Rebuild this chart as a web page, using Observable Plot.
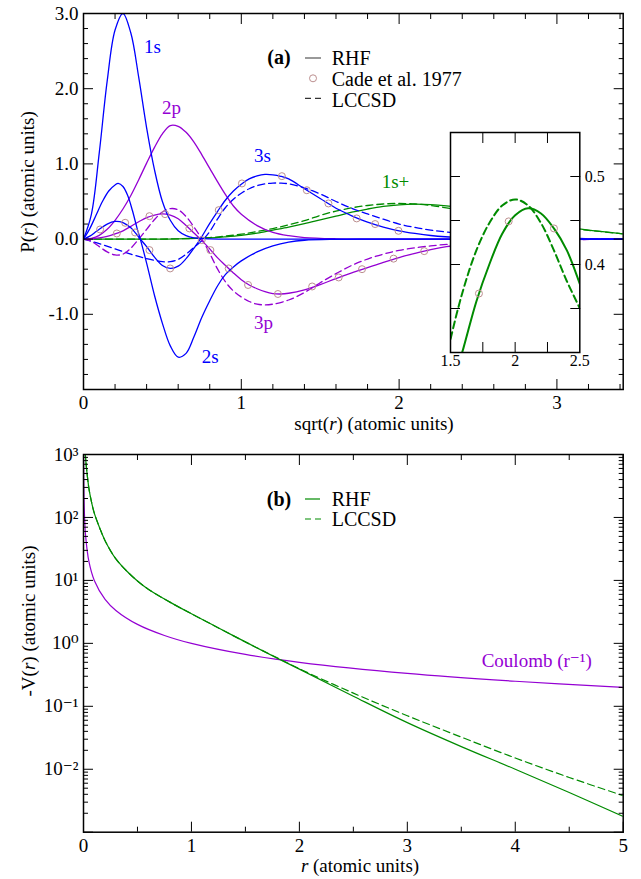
<!DOCTYPE html>
<html><head><meta charset="utf-8">
<script src="https://cdn.jsdelivr.net/npm/d3@7"></script>
<script src="https://cdn.jsdelivr.net/npm/@observablehq/plot@0.6"></script>
<style>
body{margin:0;background:#fff;}
#root{position:relative;width:641px;height:879px;overflow:hidden;background:#fff;}
#root svg{position:absolute;overflow:visible;}
</style></head><body><div id="root"></div>
<script>
// ---------- Panel (a): radial functions P(r) vs sqrt(r) ----------
const orb1s = [[0,0],[0.05,0.33],[0.1,1.15],[0.15,2.1],[0.2,2.78],[0.25,3.0],[0.3,2.74],[0.35,2.15],[0.4,1.48],[0.45,0.92],[0.5,0.5],[0.55,0.25],[0.6,0.11],[0.65,0.045],[0.7,0.017],[0.8,0.002],[0.9,0],[3.42,0]];
const orb2s = [[0,0],[0.04,0.14],[0.08,0.32],[0.12,0.5],[0.16,0.64],[0.2,0.72],[0.22,0.74],[0.25,0.7],[0.28,0.58],[0.31,0.38],[0.34,0.14],[0.36,0],[0.4,-0.32],[0.45,-0.75],[0.5,-1.12],[0.55,-1.42],[0.6,-1.57],[0.65,-1.52],[0.7,-1.3],[0.75,-1.04],[0.8,-0.82],[0.85,-0.62],[0.9,-0.47],[0.95,-0.37],[1.0,-0.29],[1.1,-0.17],[1.2,-0.09],[1.3,-0.04],[1.4,-0.015],[1.6,-0.003],[1.8,0],[3.42,0]];
const orb3s = [[0,0],[0.04,0.04],[0.08,0.1],[0.1,0.13],[0.15,0.2],[0.2,0.235],[0.25,0.22],[0.3,0.15],[0.33,0.08],[0.36,0],[0.4,-0.1],[0.45,-0.24],[0.5,-0.35],[0.55,-0.39],[0.6,-0.36],[0.65,-0.26],[0.7,-0.12],[0.74,0],[0.8,0.21],[0.85,0.37],[0.9,0.52],[0.95,0.64],[1.0,0.73],[1.05,0.8],[1.1,0.84],[1.15,0.86],[1.2,0.855],[1.25,0.835],[1.3,0.8],[1.4,0.67],[1.5,0.54],[1.6,0.41],[1.7,0.31],[1.8,0.225],[1.9,0.16],[2.0,0.11],[2.1,0.075],[2.2,0.048],[2.4,0.018],[2.6,0.006],[2.8,0.001],[3.0,0],[3.42,0]];
const orb2p = [[0,0],[0.05,0.01],[0.1,0.05],[0.15,0.13],[0.2,0.25],[0.25,0.4],[0.3,0.58],[0.35,0.79],[0.4,1.01],[0.45,1.22],[0.5,1.4],[0.55,1.51],[0.6,1.5],[0.65,1.42],[0.7,1.29],[0.75,1.12],[0.8,0.94],[0.85,0.76],[0.9,0.59],[0.95,0.44],[1.0,0.33],[1.1,0.18],[1.2,0.09],[1.3,0.045],[1.4,0.02],[1.6,0.004],[1.8,0],[3.42,0]];
const orb3p = [[0,0],[0.05,0.003],[0.1,0.015],[0.15,0.035],[0.2,0.068],[0.25,0.11],[0.3,0.17],[0.35,0.23],[0.4,0.285],[0.45,0.32],[0.5,0.335],[0.55,0.32],[0.6,0.27],[0.65,0.18],[0.7,0.08],[0.75,-0.02],[0.8,-0.13],[0.85,-0.25],[0.9,-0.35],[0.95,-0.45],[1.0,-0.54],[1.05,-0.61],[1.1,-0.66],[1.15,-0.7],[1.2,-0.725],[1.25,-0.73],[1.3,-0.72],[1.4,-0.675],[1.5,-0.605],[1.6,-0.525],[1.7,-0.45],[1.8,-0.38],[1.9,-0.31],[2.0,-0.245],[2.1,-0.19],[2.2,-0.14],[2.3,-0.1],[2.4,-0.075],[2.6,-0.04],[2.8,-0.02],[3.0,-0.01],[3.2,-0.004],[3.42,0]];
const lccsd3s = [[0,0],[0.1,-0.06],[0.2,-0.13],[0.3,-0.2],[0.4,-0.26],[0.5,-0.3],[0.55,-0.3],[0.6,-0.27],[0.65,-0.2],[0.7,-0.11],[0.76,0],[0.8,0.1],[0.85,0.27],[0.9,0.42],[0.95,0.53],[1.0,0.61],[1.05,0.67],[1.1,0.71],[1.15,0.735],[1.2,0.745],[1.25,0.745],[1.3,0.735],[1.4,0.68],[1.5,0.6],[1.6,0.5],[1.7,0.41],[1.8,0.335],[1.9,0.265],[2.0,0.2],[2.1,0.155],[2.2,0.12],[2.3,0.095],[2.5,0.055],[2.7,0.03],[3.0,0.012],[3.42,0.003]];
const lccsd3p = [[0,0],[0.05,-0.03],[0.1,-0.1],[0.15,-0.17],[0.2,-0.21],[0.25,-0.2],[0.3,-0.12],[0.35,0],[0.4,0.13],[0.45,0.26],[0.5,0.36],[0.55,0.405],[0.6,0.39],[0.65,0.3],[0.7,0.16],[0.75,0],[0.8,-0.19],[0.85,-0.4],[0.9,-0.57],[0.95,-0.69],[1.0,-0.77],[1.05,-0.83],[1.1,-0.865],[1.15,-0.875],[1.2,-0.865],[1.3,-0.81],[1.4,-0.71],[1.5,-0.58],[1.6,-0.46],[1.7,-0.35],[1.8,-0.265],[1.9,-0.2],[2.0,-0.15],[2.2,-0.09],[2.4,-0.055],[2.6,-0.03],[3.0,-0.01],[3.42,0]];
const pos1sRHF = [[0,0],[0.4,0],[0.6,0.003],[0.8,0.015],[0.9,0.03],[1.0,0.05],[1.1,0.08],[1.2,0.12],[1.3,0.16],[1.4,0.205],[1.5,0.255],[1.6,0.305],[1.7,0.358],[1.8,0.4],[1.9,0.435],[2.0,0.456],[2.1,0.464],[2.2,0.458],[2.3,0.441],[2.4,0.416],[2.5,0.378],[2.6,0.335],[2.8,0.245],[3.0,0.175],[3.2,0.12],[3.42,0.07]];
const pos1sLCCSD = [[0,0],[0.4,0],[0.6,0.004],[0.8,0.02],[0.9,0.04],[1.0,0.065],[1.1,0.1],[1.2,0.14],[1.3,0.19],[1.4,0.245],[1.5,0.315],[1.6,0.372],[1.7,0.416],[1.8,0.447],[1.9,0.467],[2.0,0.474],[2.1,0.467],[2.2,0.447],[2.3,0.416],[2.4,0.381],[2.5,0.35],[2.6,0.315],[2.8,0.24],[3.0,0.17],[3.2,0.117],[3.42,0.07]];
const cade3s = [[0.105,0.128],[0.264,0.217],[0.327,0.088],[0.418,-0.146],[0.549,-0.39],[0.749,-0.013],[0.857,0.385],[1.004,0.74],[1.257,0.837],[1.415,0.65],[1.552,0.474],[1.731,0.275],[1.848,0.2],[1.996,0.11]];
const cade3p = [[0.211,0.075],[0.418,0.305],[0.517,0.332],[0.671,0.142],[0.804,-0.146],[0.92,-0.39],[1.043,-0.61],[1.232,-0.73],[1.449,-0.63],[1.617,-0.51],[1.765,-0.40],[1.965,-0.26],[2.159,-0.16]];
const cade1sPlus = [[1.72,0.367],[1.95,0.449],[2.30,0.441]];
const xTicksA = [0,1,2,3];
const xMinorA = [0.2,0.4,0.6,0.8,1.2,1.4,1.6,1.8,2.2,2.4,2.6,2.8,3.2,3.4];
const yTicksA = [-2,-1,0,1,2,3];
const yLabelsA = [-1,0,1,2,3];
const yMinorA = [-1.8,-1.6,-1.4,-1.2,-0.8,-0.6,-0.4,-0.2,0.2,0.4,0.6,0.8,1.2,1.4,1.6,1.8,2.2,2.4,2.6,2.8];
const xTicksInset = [1.75,2,2.25];
const xLabelsInset = [1.5,2,2.5];
const yTicksInset = [0.35,0.4,0.45,0.5];
const yLabelsInset = [0.4,0.5];

// ---------- Panel (b): -V(r) vs r ----------
const potRHF = [[0.005,3600],[0.01,1800],[0.015,1150],[0.02,850],[0.03,560],[0.05,290],[0.075,174],[0.1,117],[0.15,68],[0.2,42.7],[0.3,21.9],[0.4,14.1],[0.5,9.8],[0.6,7.24],[0.8,4.52],[1.0,2.95],[1.2,1.95],[1.4,1.29],[1.6,0.861],[1.8,0.575],[2.0,0.389],[2.5,0.1445],[3.0,0.055],[3.5,0.0229],[4.0,0.01],[4.5,0.00427],[5.0,0.00178]];
const potLCCSD = [[0.005,3600],[0.01,1800],[0.015,1150],[0.02,850],[0.03,560],[0.05,290],[0.075,174],[0.1,117],[0.15,68],[0.2,42.7],[0.3,21.9],[0.4,14.1],[0.5,9.8],[0.6,7.24],[0.8,4.52],[1.0,2.95],[1.2,1.95],[1.4,1.29],[1.6,0.861],[1.8,0.582],[2.0,0.394],[2.5,0.162],[3.0,0.0708],[3.5,0.0324],[4.0,0.0151],[4.5,0.00741],[5.0,0.0038]];
const coulomb = [[0.001,1000],[0.002,500],[0.005,200],[0.01,100],[0.02,50],[0.05,20],[0.1,10],[0.2,5],[0.3,3.333],[0.5,2],[0.75,1.333],[1,1],[1.5,0.667],[2,0.5],[3,0.333],[4,0.25],[5,0.2]];
const xTicksB = [0,1,2,3,4,5];
const xMinorB = [0.5,1.5,2.5,3.5,4.5];
const yTicksB = [1e-3,1e-2,1e-1,1,10,100,1000];
const yLabelsB = [1e-2,1e-1,1,10,100,1000];
const yMinorB = [-3,-2,-1,0,1,2].flatMap(e => [2,3,4,5,6,7,8,9].map(k => k * Math.pow(10, e)));

// ---------- styling ----------
const FONT = "'Liberation Serif','DejaVu Serif','Noto Serif','Times New Roman',Times,serif";
const BLUE = "#0000ff", VIOLET = "#9400d3", GREEN = "#008b00", BROWN = "#bc8f8f";
const root = document.getElementById("root");
const X = d => d[0], Y = d => d[1];
const curve = (data, stroke, dashed, sw = 1.3) => Plot.line(data, {x: X, y: Y, stroke, strokeWidth: sw, strokeDasharray: dashed ? "7,4" : undefined, curve: "catmull-rom", clip: true});
const dots = (data) => Plot.dot(data, {x: X, y: Y, r: 3.5, stroke: BROWN, strokeWidth: 1, fill: "none", clip: true});
const blank = () => "";

function boxTicks({xMajor, xMinor = [], yMajor, yMinor = [], big = 10, small = 5}) {
  const m = [];
  for (const anchor of ["bottom", "top"]) {
    m.push(Plot.axisX({anchor, ticks: xMajor, tickSize: -big, tickFormat: blank, label: null}));
    if (xMinor.length) m.push(Plot.axisX({anchor, ticks: xMinor, tickSize: -small, tickFormat: blank, label: null}));
  }
  for (const anchor of ["left", "right"]) {
    m.push(Plot.axisY({anchor, ticks: yMajor, tickSize: -big, tickFormat: blank, label: null}));
    if (yMinor.length) m.push(Plot.axisY({anchor, ticks: yMinor, tickSize: -small, tickFormat: blank, label: null}));
  }
  return m;
}

function place(el, left, top) { el.style.left = left + "px"; el.style.top = top + "px"; root.appendChild(el); }

function addText(svg, x, y, parts, o = {}) {
  const t = d3.select(svg).append("text")
    .attr("x", x).attr("y", y)
    .style("font-family", FONT).style("font-size", (o.size || 19) + "px")
    .attr("fill", o.fill || "#000")
    .attr("text-anchor", o.anchor || "start")
    .style("font-weight", o.weight || "normal");
  if (o.rotate) t.attr("transform", `rotate(${o.rotate},${x},${y})`);
  if (o.baseline) t.attr("dominant-baseline", o.baseline);
  for (const p of parts) {
    const [s, st] = Array.isArray(p) ? p : [p, null];
    const ts = t.append("tspan").text(s);
    if (st === "i") ts.style("font-style", "italic");
  }
  return t;
}

// ---------- Panel (a) ----------
const plotA = Plot.plot({
  width: 641, height: 440,
  marginLeft: 83, marginRight: 18.3, marginTop: 13, marginBottom: 51,
  x: {domain: [0, 3.42]},
  y: {domain: [-2, 3]},
  style: {fontFamily: FONT, fontSize: "19px", background: "transparent", color: "#000"},
  marks: [
    curve(pos1sRHF, GREEN, false),
    curve(pos1sLCCSD, GREEN, true),
    curve(lccsd3s, BLUE, true),
    curve(lccsd3p, VIOLET, true),
    curve(orb2p, VIOLET, false),
    curve(orb3p, VIOLET, false),
    curve(orb1s, BLUE, false),
    curve(orb2s, BLUE, false),
    curve(orb3s, BLUE, false),
    dots(cade3s),
    dots(cade3p),
    ...boxTicks({xMajor: xTicksA, xMinor: xMinorA, yMajor: yTicksA, yMinor: yMinorA}),
    Plot.axisX({anchor: "bottom", ticks: xTicksA, tickSize: 0, tickPadding: 6, tickFormat: d => String(d), label: null}),
    Plot.axisY({anchor: "left", ticks: yLabelsA, tickSize: 0, tickPadding: 5, tickFormat: d => d.toFixed(1), label: null}),
    Plot.frame({strokeWidth: 1.5})
  ]
});
place(plotA, 0, 0);

// curve labels
addText(plotA, 144, 53, ["1s"], {fill: BLUE});
addText(plotA, 162, 114, ["2p"], {fill: VIOLET});
addText(plotA, 254, 162, ["3s"], {fill: BLUE});
addText(plotA, 381.7, 188, ["1s+"], {fill: GREEN});
addText(plotA, 201.7, 363, ["2s"], {fill: BLUE});
addText(plotA, 254, 329, ["3p"], {fill: VIOLET});
// legend (a)
addText(plotA, 279, 64, ["(a)"], {anchor: "middle", weight: "bold", size: 20});
d3.select(plotA).append("line").attr("x1", 305).attr("x2", 321).attr("y1", 58).attr("y2", 58).attr("stroke", "#555").attr("stroke-width", 1.2);
addText(plotA, 331.7, 65, ["RHF"], {size: 20});
d3.select(plotA).append("circle").attr("cx", 313).attr("cy", 78.3).attr("r", 3.5).attr("fill", "none").attr("stroke", BROWN);
addText(plotA, 331.7, 86, ["Cade et al. 1977"], {size: 20});
d3.select(plotA).append("line").attr("x1", 305).attr("x2", 322).attr("y1", 98.3).attr("y2", 98.3).attr("stroke", "#333").attr("stroke-width", 1.3).attr("stroke-dasharray", "6,4");
addText(plotA, 331.7, 106.5, ["LCCSD"], {size: 20});
// axis titles (a)
addText(plotA, 27, 182, ["P(", ["r", "i"], ") (atomic units)"], {anchor: "middle", rotate: -90, baseline: "central"});
addText(plotA, 374, 430, ["sqrt(", ["r", "i"], ") (atomic units)"], {anchor: "middle"});

// ---------- Inset ----------
const plotI = Plot.plot({
  width: 190, height: 260,
  marginLeft: 10, marginRight: 50.7, marginTop: 10, marginBottom: 30,
  x: {domain: [1.5, 2.5]},
  y: {domain: [0.3, 0.55]},
  style: {fontFamily: FONT, fontSize: "16px", background: "transparent", color: "#000"},
  marks: [
    Plot.frame({fill: "white", stroke: "none"}),
    curve(pos1sLCCSD, GREEN, true, 2),
    curve(pos1sRHF, GREEN, false, 2),
    dots(cade1sPlus),
    ...boxTicks({xMajor: xTicksInset, yMajor: yTicksInset}),
    Plot.axisX({anchor: "bottom", ticks: xLabelsInset, tickSize: 0, tickPadding: 2, tickFormat: d => String(d), label: null}),
    Plot.axisY({anchor: "right", ticks: yLabelsInset, tickSize: 0, tickPadding: 5, tickFormat: d => d.toFixed(1), label: null}),
    Plot.frame({strokeWidth: 1.5})
  ]
});
place(plotI, 440, 121.7);

// ---------- Panel (b) ----------
const supMap = {"-": "\u207B", "0": "\u2070", "1": "\u00B9", "2": "\u00B2", "3": "\u00B3"};
const pow10 = d => "10" + String(Math.round(Math.log10(d))).split("").map(c => supMap[c]).join("");
const plotB = Plot.plot({
  width: 641, height: 439,
  marginLeft: 83, marginRight: 18.3, marginTop: 14, marginBottom: 47.3,
  x: {domain: [0, 5]},
  y: {type: "log", domain: [1e-3, 1e3]},
  style: {fontFamily: FONT, fontSize: "19px", background: "transparent", color: "#000"},
  marks: [
    curve(coulomb, VIOLET, false, 1.2),
    curve(potLCCSD, GREEN, true, 1.2),
    curve(potRHF, GREEN, false, 1.2),
    ...boxTicks({xMajor: xTicksB, xMinor: xMinorB, yMajor: yTicksB, yMinor: yMinorB}),
    Plot.axisX({anchor: "bottom", ticks: xTicksB, tickSize: 0, tickPadding: 6, tickFormat: d => String(d), label: null}),
    Plot.axisY({anchor: "left", ticks: yLabelsB, tickSize: 0, tickPadding: 5, tickFormat: pow10, label: null}),
    Plot.frame({strokeWidth: 1.5})
  ]
});
place(plotB, 0, 440);
addText(plotB, 279, 65.5, ["(b)"], {anchor: "middle", weight: "bold", size: 20});
d3.select(plotB).append("line").attr("x1", 305).attr("x2", 320).attr("y1", 59).attr("y2", 59).attr("stroke", GREEN).attr("stroke-width", 1.2);
addText(plotB, 331.7, 66, ["RHF"], {size: 20});
d3.select(plotB).append("line").attr("x1", 305).attr("x2", 321).attr("y1", 79).attr("y2", 79).attr("stroke", GREEN).attr("stroke-width", 1.2).attr("stroke-dasharray", "6,4");
addText(plotB, 331.7, 86, ["LCCSD"], {size: 20});
addText(plotB, 481.7, 227, ["Coulomb (r\u207B\u00B9)"], {fill: VIOLET});
addText(plotB, 28, 181, ["-V(", ["r", "i"], ") (atomic units)"], {anchor: "middle", rotate: -90, baseline: "central"});
addText(plotB, 360, 432, [["r", "i"], " (atomic units)"], {anchor: "middle"});
</script></body></html>
